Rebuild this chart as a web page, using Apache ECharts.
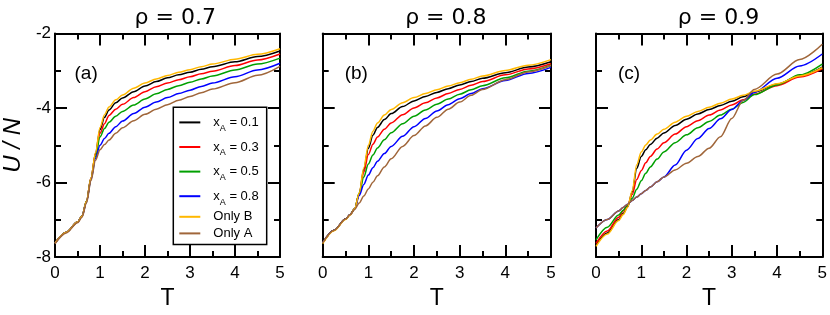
<!DOCTYPE html>
<html>
<head>
<meta charset="utf-8">
<script src="https://cdn.jsdelivr.net/npm/echarts@6/dist/echarts.min.js"></script>
<style>
html,body{margin:0;padding:0;background:#fff;}
#chart{width:830px;height:315px;}
</style>
</head>
<body>
<div id="chart"></div>
<script>
// Temperatures (x values shared by all curves)
const temps = [0, 0.25, 0.5, 0.6, 0.7, 0.8, 0.9, 1.0, 1.1, 1.2, 1.35, 1.5, 1.75, 2.0, 2.25, 2.5, 2.75, 3.0, 3.25, 3.5, 4.0, 4.5, 5.0];

const seriesNames = ['x_A = 0.1', 'x_A = 0.3', 'x_A = 0.5', 'x_A = 0.8', 'Only B', 'Only A'];
const seriesColors = ['#000000', '#ff0000', '#00a000', '#0000ff', '#ffb800', '#a0663a'];

const panelTitles = ['ρ = 0.7', 'ρ = 0.8', 'ρ = 0.9'];
const panelLabels = ['(a)', '(b)', '(c)'];
const xTicks = [0, 1, 2, 3, 4, 5];
const yTicks = [-8, -6, -4, -2];

// Panel (a) rho = 0.7
const a_x01 = [-7.62,-7.33,-7.06,-6.90,-6.50,-5.88,-5.22,-4.58,-4.25,-4.05,-3.86,-3.73,-3.56,-3.41,-3.29,-3.19,-3.11,-3.04,-2.96,-2.89,-2.76,-2.62,-2.47];
const a_x03 = [-7.62,-7.33,-7.06,-6.90,-6.50,-5.88,-5.25,-4.68,-4.42,-4.20,-4.03,-3.90,-3.72,-3.56,-3.43,-3.33,-3.24,-3.16,-3.08,-3.01,-2.86,-2.71,-2.55];
const a_x05 = [-7.62,-7.33,-7.06,-6.90,-6.50,-5.90,-5.30,-4.78,-4.55,-4.38,-4.22,-4.09,-3.92,-3.76,-3.62,-3.50,-3.40,-3.31,-3.22,-3.14,-2.98,-2.82,-2.66];
const a_x08 = [-7.62,-7.33,-7.06,-6.90,-6.52,-5.92,-5.35,-5.00,-4.82,-4.68,-4.50,-4.35,-4.15,-3.98,-3.84,-3.72,-3.61,-3.52,-3.42,-3.33,-3.16,-2.98,-2.80];
const a_onlyB = [-7.62,-7.33,-7.06,-6.90,-6.50,-5.88,-5.20,-4.52,-4.18,-3.97,-3.78,-3.65,-3.47,-3.33,-3.22,-3.13,-3.04,-2.97,-2.89,-2.82,-2.69,-2.56,-2.41];
const a_onlyA = [-7.64,-7.35,-7.08,-6.93,-6.55,-5.95,-5.40,-5.12,-4.98,-4.86,-4.68,-4.53,-4.34,-4.17,-4.03,-3.91,-3.79,-3.69,-3.59,-3.49,-3.32,-3.12,-2.88];

// Panel (b) rho = 0.8
const b_x01 = [-7.62,-7.28,-6.98,-6.86,-6.70,-6.30,-5.65,-5.08,-4.73,-4.52,-4.31,-4.15,-3.96,-3.81,-3.69,-3.58,-3.48,-3.38,-3.29,-3.20,-3.05,-2.90,-2.76];
const b_x03 = [-7.62,-7.28,-6.98,-6.86,-6.70,-6.30,-5.72,-5.25,-4.97,-4.78,-4.57,-4.40,-4.18,-4.00,-3.86,-3.73,-3.61,-3.50,-3.39,-3.29,-3.11,-2.95,-2.81];
const b_x05 = [-7.62,-7.28,-6.98,-6.86,-6.70,-6.28,-5.85,-5.50,-5.26,-5.07,-4.85,-4.66,-4.42,-4.22,-4.05,-3.90,-3.76,-3.63,-3.51,-3.40,-3.19,-3.01,-2.85];
const b_x08 = [-7.62,-7.28,-6.98,-6.86,-6.71,-6.35,-6.05,-5.80,-5.60,-5.43,-5.22,-5.03,-4.76,-4.50,-4.28,-4.08,-3.91,-3.75,-3.61,-3.48,-3.26,-3.07,-2.91];
const b_onlyB = [-7.64,-7.29,-6.99,-6.87,-6.70,-6.28,-5.60,-5.00,-4.62,-4.40,-4.19,-4.04,-3.86,-3.72,-3.61,-3.51,-3.41,-3.32,-3.23,-3.14,-2.99,-2.85,-2.70];
const b_onlyA = [-7.62,-7.28,-6.98,-6.86,-6.72,-6.55,-6.36,-6.17,-5.99,-5.82,-5.58,-5.36,-5.03,-4.74,-4.48,-4.25,-4.03,-3.84,-3.66,-3.50,-3.24,-3.03,-2.86];

// Panel (c) rho = 0.9
const c_x01 = [-7.67,-7.35,-6.99,-6.83,-6.65,-6.25,-5.62,-5.30,-5.12,-4.98,-4.81,-4.67,-4.47,-4.30,-4.16,-4.04,-3.93,-3.82,-3.70,-3.57,-3.36,-3.14,-2.90];
const c_x03 = [-7.63,-7.30,-6.93,-6.76,-6.61,-6.32,-5.92,-5.68,-5.47,-5.30,-5.10,-4.93,-4.70,-4.50,-4.34,-4.19,-4.05,-3.92,-3.78,-3.63,-3.40,-3.17,-2.95];
const c_x05 = [-7.54,-7.20,-6.87,-6.74,-6.60,-6.42,-6.18,-5.95,-5.75,-5.58,-5.37,-5.18,-4.93,-4.72,-4.53,-4.36,-4.19,-4.03,-3.85,-3.64,-3.38,-3.11,-2.82];
const c_x08 = [-7.22,-6.99,-6.76,-6.67,-6.58,-6.48,-6.39,-6.30,-6.21,-6.12,-5.98,-5.85,-5.53,-5.13,-4.82,-4.55,-4.29,-4.04,-3.80,-3.58,-3.20,-2.87,-2.55];
const c_onlyB = [-7.71,-7.38,-7.02,-6.86,-6.66,-6.22,-5.52,-5.18,-4.99,-4.86,-4.70,-4.57,-4.38,-4.22,-4.09,-3.98,-3.87,-3.76,-3.66,-3.55,-3.35,-3.14,-2.92];
const c_onlyA = [-7.22,-6.99,-6.76,-6.67,-6.58,-6.48,-6.39,-6.30,-6.21,-6.12,-5.98,-5.85,-5.66,-5.48,-5.30,-5.08,-4.77,-4.28,-3.80,-3.50,-3.09,-2.70,-2.29];

const panelData = [
  [a_x01, a_x03, a_x05, a_x08, a_onlyB, a_onlyA],
  [b_x01, b_x03, b_x05, b_x08, b_onlyB, b_onlyA],
  [c_x01, c_x03, c_x05, c_x08, c_onlyB, c_onlyA]
];

const FONT = 'Liberation Sans';
const gridLefts = [52.5, 322.7, 596];
const gridWidths = [227.5, 228.3, 227];
const gridTop = 33.5, gridHeight = 234.2;

const tickStyle = {inside: true, length: 12, lineStyle: {color: '#000', width: 2}};
const minorStyle = {show: true, splitNumber: 2, length: 6, lineStyle: {color: '#000', width: 2}};
const lineStyleAxis = {show: true, onZero: false, lineStyle: {color: '#000', width: 2}};

const grids = [], xAxes = [], yAxes = [], series = [], titles = [];
for (let p = 0; p < 3; p++) {
  grids.push({left: gridLefts[p], top: gridTop, width: gridWidths[p], height: gridHeight, containLabel: false});
  xAxes.push({
    type: 'value', gridIndex: p, position: 'bottom', min: xTicks[0], max: xTicks[xTicks.length - 1], interval: 1,
    axisLine: lineStyleAxis, axisTick: tickStyle, minorTick: minorStyle, splitLine: {show: false},
    axisLabel: {show: true, color: '#000', fontSize: 17, fontFamily: FONT, margin: 8},
    name: 'T', nameLocation: 'middle', nameGap: 12,
    nameTextStyle: {color: '#000', fontSize: 23, fontFamily: FONT}
  });
  xAxes.push({
    type: 'value', gridIndex: p, position: 'top', min: xTicks[0], max: xTicks[xTicks.length - 1], interval: 1,
    axisLine: lineStyleAxis, axisTick: tickStyle, minorTick: minorStyle, splitLine: {show: false},
    axisLabel: {show: false}
  });
  yAxes.push({
    type: 'value', gridIndex: p, position: 'left', min: yTicks[0], max: yTicks[yTicks.length - 1], interval: 2,
    axisLine: lineStyleAxis, axisTick: tickStyle, minorTick: minorStyle, splitLine: {show: false},
    axisLabel: {show: p === 0, color: '#000', fontSize: 17, fontFamily: FONT, margin: 4},
    name: p === 0 ? 'U / N' : '', nameLocation: 'middle', nameGap: 30, nameRotate: 90,
    nameTextStyle: {color: '#000', fontSize: 24, fontStyle: 'italic', fontFamily: FONT}
  });
  yAxes.push({
    type: 'value', gridIndex: p, position: 'right', min: yTicks[0], max: yTicks[yTicks.length - 1], interval: 2,
    axisLine: lineStyleAxis, axisTick: tickStyle, minorTick: minorStyle, splitLine: {show: false},
    axisLabel: {show: false}
  });
  titles.push({
    text: panelTitles[p], left: gridLefts[p] + gridWidths[p] / 2 + 4, top: 2, textAlign: 'center',
    textStyle: {color: '#000', fontSize: 22, fontWeight: 'normal', fontFamily: 'DejaVu Sans'}
  });
  titles.push({
    text: panelLabels[p], left: gridLefts[p] + 17, top: 59,
    textStyle: {color: '#000', fontSize: 19, fontWeight: 'normal', fontFamily: FONT}
  });
  for (let s = 0; s < seriesNames.length; s++) {
    series.push({
      type: 'line', name: seriesNames[s], xAxisIndex: p * 2, yAxisIndex: p * 2,
      data: temps.map((t, i) => [t, panelData[p][s][i]]),
      showSymbol: false, symbol: 'none', smooth: 0.3, smoothMonotone: 'x',
      color: seriesColors[s], lineStyle: {color: seriesColors[s], width: 1.5},
      animation: false
    });
  }
}

const option = {
  backgroundColor: '#fff',
  animation: false,
  title: titles,
  grid: grids,
  xAxis: xAxes,
  yAxis: yAxes,
  legend: {
    data: seriesNames, orient: 'vertical', left: 173.3, top: 107.3,
    icon: 'rect', itemWidth: 21, itemHeight: 2, itemGap: 3.6,
    padding: [4.6, 8, 4.6, 6], borderColor: '#000', borderWidth: 1.5, backgroundColor: '#fff',
    selectedMode: false,
    formatter: function (name) {
      if (name.indexOf('x_A') === 0) {
        return '{x|x}{s|A}{n|' + name.slice(3) + '}';
      }
      return '{p|' + name + '}';
    },
    textStyle: {
      color: '#000', fontSize: 13, fontFamily: FONT,
      rich: {
        x: {fontSize: 13, lineHeight: 15, fontFamily: FONT, color: '#000', padding: [0, 0, 0, 8]},
        s: {fontSize: 9, lineHeight: 9, fontFamily: FONT, color: '#000', padding: [12, 0, 0, 0]},
        n: {fontSize: 13, lineHeight: 15, fontFamily: FONT, color: '#000'},
        p: {fontSize: 13, lineHeight: 17.4, fontFamily: FONT, color: '#000', padding: [0, 0, 0, 8]}
      }
    }
  },
  series: series
};

const chart = echarts.init(document.getElementById('chart'), null, {renderer: 'canvas'});
chart.setOption(option);
</script>
</body>
</html>
